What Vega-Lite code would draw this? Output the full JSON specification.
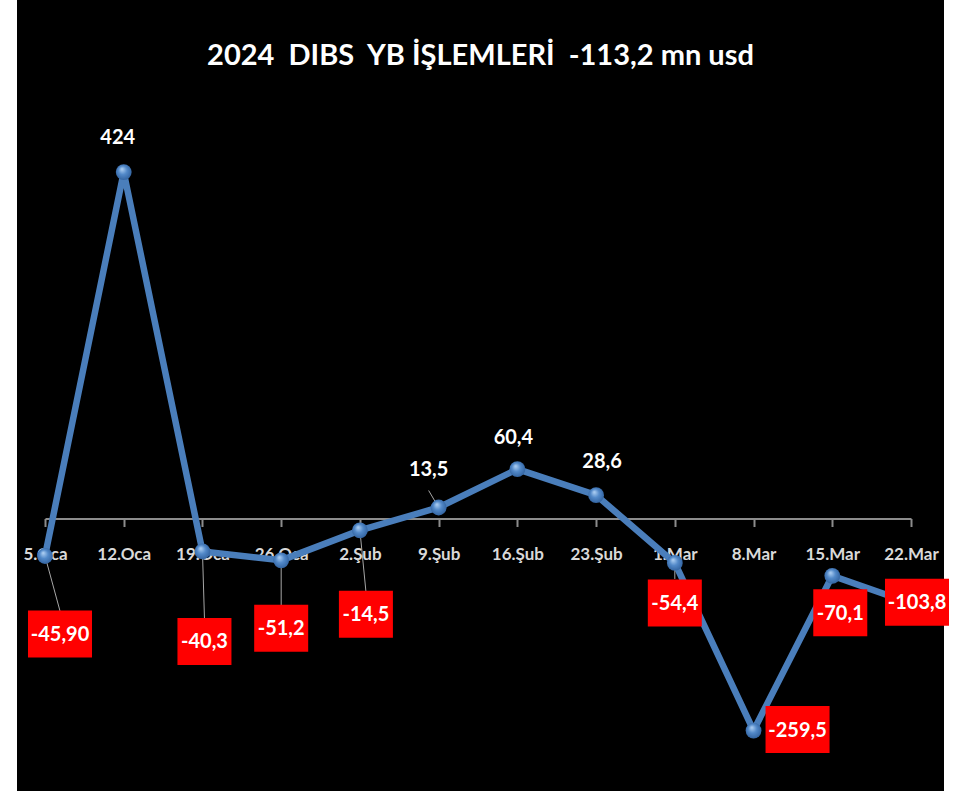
{
  "$schema": "https://vega.github.io/schema/vega-lite/v6.json",
  "width": 927,
  "height": 791,
  "autosize": {"type": "none"},
  "padding": {"left": 17, "right": 9, "top": 0, "bottom": 0},
  "background": "white",
  "config": {
    "view": {"fill": "black", "stroke": null},
    "font": "Lato"
  },
  "title": {
    "text": "2024\u00a0 DIBS\u00a0 YB İŞLEMLERİ\u00a0 -113,2 mn usd",
    "color": "white",
    "font": "Lato",
    "fontSize": 29,
    "fontWeight": "bold",
    "anchor": "middle",
    "frame": "group",
    "offset": -94,
    "baseline": "alphabetic"
  },
  "data": {
    "values": [
      {"d": "5.Oca", "v": -45.9, "lab": "-45,90"},
      {"d": "12.Oca", "v": 424, "lab": "424"},
      {"d": "19.Oca", "v": -40.3, "lab": "-40,3"},
      {"d": "26.Oca", "v": -51.2, "lab": "-51,2"},
      {"d": "2.Şub", "v": -14.5, "lab": "-14,5"},
      {"d": "9.Şub", "v": 13.5, "lab": "13,5"},
      {"d": "16.Şub", "v": 60.4, "lab": "60,4"},
      {"d": "23.Şub", "v": 28.6, "lab": "28,6"},
      {"d": "1.Mar", "v": -54.4, "lab": "-54,4"},
      {"d": "8.Mar", "v": -259.5, "lab": "-259,5"},
      {"d": "15.Mar", "v": -70.1, "lab": "-70,1"},
      {"d": "22.Mar", "v": -103.8, "lab": "-103,8"}
    ]
  },
  "encoding": {
    "x": {
      "field": "d",
      "type": "ordinal",
      "sort": null,
      "scale": {"type": "point", "range": [28, 894], "padding": 0},
      "axis": {
        "orient": "bottom",
        "offset": -272.5,
        "title": null,
        "grid": false,
        "labelAngle": 0,
        "domainColor": "#8c8c8c",
        "domainWidth": 2,
        "tickColor": "#8c8c8c",
        "tickWidth": 2,
        "tickSize": 8,
        "labelColor": "#d9d9d9",
        "labelFont": "Lato",
        "labelFontWeight": "bold",
        "labelFontSize": 17,
        "labelPadding": 20
      }
    },
    "y": {
      "field": "v",
      "type": "quantitative",
      "scale": {"domain": [-333.5, 634.6], "nice": false, "zero": false},
      "axis": null
    }
  },
  "layer": [
    {"mark": {"type": "line", "stroke": "#4a7ebb", "strokeWidth": 6.5, "strokeJoin": "round"}},
    {"transform": [{"filter": {"field": "d", "equal": "5.Oca"}}], "mark": {"type": "rule", "color": "#a6a6a6", "strokeWidth": 1, "x2Offset": 15, "y2Offset": 55}, "encoding": {"x2": {"field": "d"}, "y2": {"field": "v"}}},
    {"transform": [{"filter": {"field": "d", "equal": "19.Oca"}}], "mark": {"type": "rule", "color": "#a6a6a6", "strokeWidth": 1, "x2Offset": 2, "y2Offset": 67}, "encoding": {"x2": {"field": "d"}, "y2": {"field": "v"}}},
    {"transform": [{"filter": {"field": "d", "equal": "26.Oca"}}], "mark": {"type": "rule", "color": "#a6a6a6", "strokeWidth": 1, "x2Offset": 0, "y2Offset": 45}, "encoding": {"x2": {"field": "d"}, "y2": {"field": "v"}}},
    {"transform": [{"filter": {"field": "d", "equal": "2.Şub"}}], "mark": {"type": "rule", "color": "#a6a6a6", "strokeWidth": 1, "x2Offset": 6, "y2Offset": 61}, "encoding": {"x2": {"field": "d"}, "y2": {"field": "v"}}},
    {"transform": [{"filter": {"field": "d", "equal": "9.Şub"}}], "mark": {"type": "rule", "color": "#a6a6a6", "strokeWidth": 1, "x2Offset": -10, "y2Offset": -17}, "encoding": {"x2": {"field": "d"}, "y2": {"field": "v"}}},
    {"transform": [{"filter": {"field": "d", "equal": "1.Mar"}}], "mark": {"type": "rule", "color": "#a6a6a6", "strokeWidth": 1, "x2Offset": 0, "y2Offset": 16}, "encoding": {"x2": {"field": "d"}, "y2": {"field": "v"}}},
    {
      "mark": {
        "type": "point",
        "shape": "circle",
        "size": 250,
        "filled": true,
        "opacity": 1,
        "strokeWidth": 0,
        "fill": {
          "gradient": "radial",
          "x1": 0.38, "y1": 0.3, "r1": 0,
          "x2": 0.5, "y2": 0.5, "r2": 0.6,
          "stops": [
            {"offset": 0, "color": "#b3d3f5"},
            {"offset": 0.45, "color": "#5289c9"},
            {"offset": 1, "color": "#2b5a96"}
          ]
        }
      }
    },
    {"transform": [{"filter": {"field": "d", "equal": "5.Oca"}}], "layer": [
      {"mark": {"type": "point", "shape": "M-1.362,-1H1.362V1H-1.362Z", "size": 2209, "filled": true, "opacity": 1, "fill": "#ff0000", "strokeWidth": 0, "xOffset": 15, "yOffset": 78}},
      {"mark": {"type": "text", "color": "white", "font": "Lato", "fontWeight": "bold", "fontSize": 20, "align": "center", "baseline": "middle", "dx": 15, "dy": 79}, "encoding": {"text": {"field": "lab"}}}
    ]},
    {"transform": [{"filter": {"field": "d", "equal": "19.Oca"}}], "layer": [
      {"mark": {"type": "point", "shape": "M-1.149,-1H1.149V1H-1.149Z", "size": 2209, "filled": true, "opacity": 1, "fill": "#ff0000", "strokeWidth": 0, "xOffset": 2, "yOffset": 90}},
      {"mark": {"type": "text", "color": "white", "font": "Lato", "fontWeight": "bold", "fontSize": 20, "align": "center", "baseline": "middle", "dx": 2, "dy": 91}, "encoding": {"text": {"field": "lab"}}}
    ]},
    {"transform": [{"filter": {"field": "d", "equal": "26.Oca"}}], "layer": [
      {"mark": {"type": "point", "shape": "M-1.149,-1H1.149V1H-1.149Z", "size": 2209, "filled": true, "opacity": 1, "fill": "#ff0000", "strokeWidth": 0, "xOffset": 0, "yOffset": 68}},
      {"mark": {"type": "text", "color": "white", "font": "Lato", "fontWeight": "bold", "fontSize": 20, "align": "center", "baseline": "middle", "dx": 0, "dy": 69}, "encoding": {"text": {"field": "lab"}}}
    ]},
    {"transform": [{"filter": {"field": "d", "equal": "2.Şub"}}], "layer": [
      {"mark": {"type": "point", "shape": "M-1.149,-1H1.149V1H-1.149Z", "size": 2209, "filled": true, "opacity": 1, "fill": "#ff0000", "strokeWidth": 0, "xOffset": 6, "yOffset": 84}},
      {"mark": {"type": "text", "color": "white", "font": "Lato", "fontWeight": "bold", "fontSize": 20, "align": "center", "baseline": "middle", "dx": 6, "dy": 85}, "encoding": {"text": {"field": "lab"}}}
    ]},
    {"transform": [{"filter": {"field": "d", "equal": "1.Mar"}}], "layer": [
      {"mark": {"type": "point", "shape": "M-1.149,-1H1.149V1H-1.149Z", "size": 2209, "filled": true, "opacity": 1, "fill": "#ff0000", "strokeWidth": 0, "xOffset": 0, "yOffset": 40}},
      {"mark": {"type": "text", "color": "white", "font": "Lato", "fontWeight": "bold", "fontSize": 20, "align": "center", "baseline": "middle", "dx": 0, "dy": 41}, "encoding": {"text": {"field": "lab"}}}
    ]},
    {"transform": [{"filter": {"field": "d", "equal": "8.Mar"}}], "layer": [
      {"mark": {"type": "point", "shape": "M-1.362,-1H1.362V1H-1.362Z", "size": 2209, "filled": true, "opacity": 1, "fill": "#ff0000", "strokeWidth": 0, "xOffset": 44, "yOffset": -1}},
      {"mark": {"type": "text", "color": "white", "font": "Lato", "fontWeight": "bold", "fontSize": 20, "align": "center", "baseline": "middle", "dx": 44, "dy": 0}, "encoding": {"text": {"field": "lab"}}}
    ]},
    {"transform": [{"filter": {"field": "d", "equal": "15.Mar"}}], "layer": [
      {"mark": {"type": "point", "shape": "M-1.149,-1H1.149V1H-1.149Z", "size": 2209, "filled": true, "opacity": 1, "fill": "#ff0000", "strokeWidth": 0, "xOffset": 8, "yOffset": 37}},
      {"mark": {"type": "text", "color": "white", "font": "Lato", "fontWeight": "bold", "fontSize": 20, "align": "center", "baseline": "middle", "dx": 8, "dy": 38}, "encoding": {"text": {"field": "lab"}}}
    ]},
    {"transform": [{"filter": {"field": "d", "equal": "22.Mar"}}], "layer": [
      {"mark": {"type": "point", "shape": "M-1.362,-1H1.362V1H-1.362Z", "size": 2209, "filled": true, "opacity": 1, "fill": "#ff0000", "strokeWidth": 0, "xOffset": 6, "yOffset": -1}},
      {"mark": {"type": "text", "color": "white", "font": "Lato", "fontWeight": "bold", "fontSize": 20, "align": "center", "baseline": "middle", "dx": 6, "dy": 0}, "encoding": {"text": {"field": "lab"}}}
    ]},
    {"transform": [{"filter": {"field": "d", "equal": "12.Oca"}}], "mark": {"type": "text", "color": "white", "font": "Lato", "fontWeight": "bold", "fontSize": 20, "align": "center", "baseline": "middle", "dx": -6, "dy": -34}, "encoding": {"text": {"field": "lab"}}},
    {"transform": [{"filter": {"field": "d", "equal": "9.Şub"}}], "mark": {"type": "text", "color": "white", "font": "Lato", "fontWeight": "bold", "fontSize": 20, "align": "center", "baseline": "middle", "dx": -10, "dy": -37}, "encoding": {"text": {"field": "lab"}}},
    {"transform": [{"filter": {"field": "d", "equal": "16.Şub"}}], "mark": {"type": "text", "color": "white", "font": "Lato", "fontWeight": "bold", "fontSize": 20, "align": "center", "baseline": "middle", "dx": -4, "dy": -31}, "encoding": {"text": {"field": "lab"}}},
    {"transform": [{"filter": {"field": "d", "equal": "23.Şub"}}], "mark": {"type": "text", "color": "white", "font": "Lato", "fontWeight": "bold", "fontSize": 20, "align": "center", "baseline": "middle", "dx": 6, "dy": -33}, "encoding": {"text": {"field": "lab"}}}
  ]
}
